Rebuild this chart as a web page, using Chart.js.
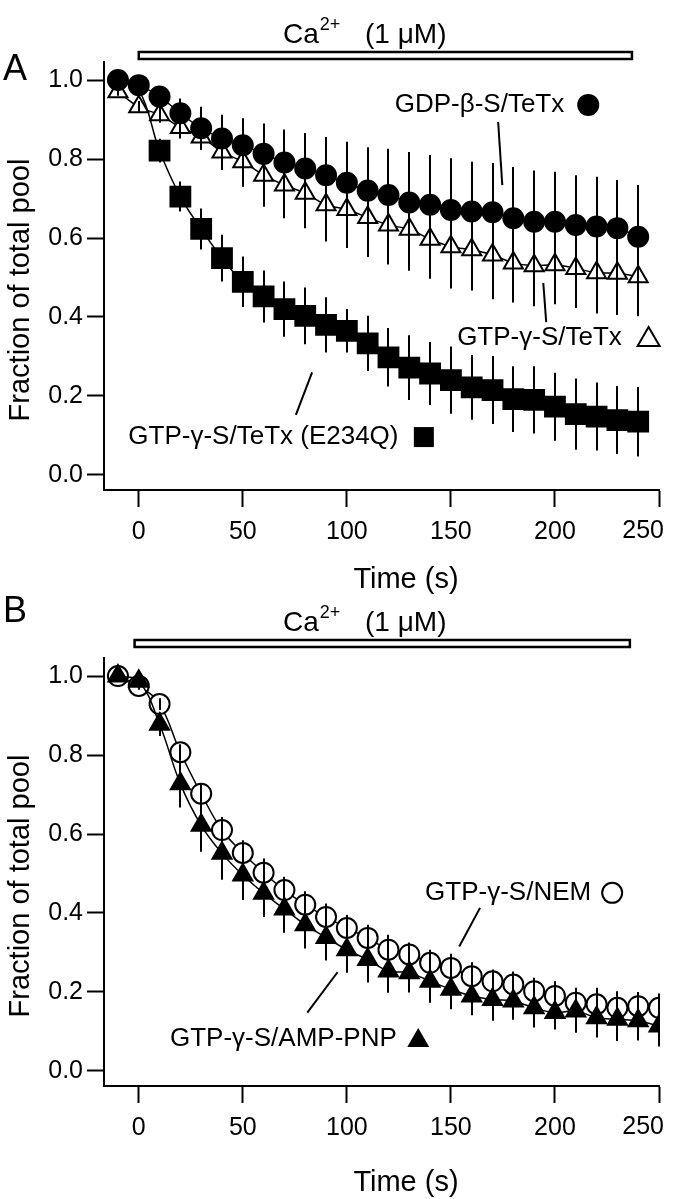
<!DOCTYPE html>
<html>
<head>
<meta charset="utf-8">
<title>Fraction of total pool vs time</title>
<script src="https://cdn.jsdelivr.net/npm/chart.js@4/dist/chart.umd.min.js"></script>
<style>
    html, body { margin: 0; padding: 0; background: #fff; }
    #page { position: relative; width: 676px; height: 1199px; overflow: hidden; }
    #chart-a { position: absolute; left: 0; top: 0; }
    #chart-b { position: absolute; left: 0; top: 596px; }
</style>
</head>
<body>
<div id="page">
    <canvas id="chart-a" width="676" height="598"></canvas>
    <canvas id="chart-b" width="676" height="603"></canvas>
</div>
<script>
(function () {
    "use strict";

    // ---- data ----
    var X_TICKS = [0, 50, 100, 150, 200, 250];
    var Y_TICKS = [0.0, 0.2, 0.4, 0.6, 0.8, 1.0];

    // panel A
    var TIME_A = [-10, 0, 10, 20, 30, 40, 50, 60, 70, 80, 90, 100, 110, 120,
        130, 140, 150, 160, 170, 180, 190, 200, 210, 220, 230, 240];
    var GDP_TETX = [1.0, 0.987, 0.958, 0.916, 0.878, 0.852, 0.835, 0.813, 0.791, 0.776, 0.759, 0.74, 0.72,
        0.709, 0.69, 0.684, 0.671, 0.667, 0.665, 0.65, 0.641, 0.641, 0.633, 0.629, 0.625, 0.603];
    var GDP_TETX_ERR = [0.01, 0.015, 0.02, 0.037, 0.054, 0.06, 0.068, 0.077, 0.084, 0.09, 0.097, 0.104, 0.11,
        0.117, 0.128, 0.126, 0.131, 0.126, 0.125, 0.13, 0.13, 0.127, 0.126, 0.126, 0.122, 0.131];
    var GTP_TETX = [0.97, 0.932, 0.912, 0.88, 0.856, 0.818, 0.793, 0.759, 0.734, 0.713, 0.684, 0.672, 0.652,
        0.633, 0.622, 0.597, 0.578, 0.57, 0.557, 0.537, 0.53, 0.532, 0.523, 0.512, 0.511, 0.502];
    var GTP_TETX_ERR = [0.01, 0.015, 0.02, 0.028, 0.033, 0.046, 0.063, 0.08, 0.084, 0.088, 0.093, 0.097, 0.1,
        0.1, 0.105, 0.1, 0.106, 0.103, 0.112, 0.1, 0.103, 0.1, 0.1, 0.103, 0.106, 0.1];
    var GTP_E234Q = [1.0, 0.975, 0.821, 0.705, 0.623, 0.549, 0.489, 0.452, 0.42, 0.403, 0.38, 0.365, 0.333,
        0.298, 0.272, 0.257, 0.24, 0.222, 0.215, 0.192, 0.19, 0.173, 0.154, 0.148, 0.139, 0.135];
    var GTP_E234Q_ERR = [0.01, 0.015, 0.03, 0.038, 0.052, 0.059, 0.064, 0.066, 0.07, 0.072, 0.07, 0.055, 0.07,
        0.074, 0.082, 0.08, 0.085, 0.082, 0.086, 0.083, 0.085, 0.086, 0.09, 0.086, 0.086, 0.088];

    // panel B
    var TIME_B = [-10, 0, 10, 20, 30, 40, 50, 60, 70, 80, 90, 100, 110, 120,
        130, 140, 150, 160, 170, 180, 190, 200, 210, 220, 230, 240, 250];
    var GTP_NEM = [1.0, 0.975, 0.929, 0.807, 0.702, 0.61, 0.552, 0.502, 0.458, 0.421, 0.39, 0.362, 0.337,
        0.307, 0.295, 0.274, 0.261, 0.24, 0.227, 0.219, 0.202, 0.19, 0.173, 0.169, 0.16, 0.164, 0.16];
    var GTP_NEM_ERR = [0.005, 0.01, 0.015, 0.02, 0.025, 0.033, 0.032, 0.036, 0.034, 0.034, 0.034, 0.033, 0.033,
        0.038, 0.03, 0.033, 0.036, 0.035, 0.03, 0.033, 0.034, 0.037, 0.038, 0.042, 0.042, 0.036, 0.036];
    var GTP_AMPPNP = [1.0, 0.987, 0.878, 0.727, 0.622, 0.551, 0.496, 0.45, 0.41, 0.37, 0.338, 0.307, 0.282,
        0.253, 0.249, 0.227, 0.207, 0.19, 0.181, 0.177, 0.16, 0.148, 0.152, 0.135, 0.131, 0.127, 0.114];
    var GTP_AMPPNP_ERR = [0.005, 0.01, 0.03, 0.06, 0.067, 0.067, 0.063, 0.06, 0.06, 0.06, 0.058, 0.058, 0.058,
        0.055, 0.05, 0.054, 0.051, 0.049, 0.054, 0.047, 0.05, 0.043, 0.055, 0.05, 0.055, 0.05, 0.052];

    var FONT = "'Liberation Sans', Arial, Helvetica, sans-serif";
    var INK = "#000";
    var LAST_X_TICK = X_TICKS[X_TICKS.length - 1];

    function series(times, values, errors, style) {
        var ds = {
            data: times.map(function (t, i) { return { x: t, y: values[i] }; }),
            errors: errors,
            borderColor: INK,
            borderWidth: 1.5,
            tension: 0.4,
            fill: false,
            pointBorderColor: INK,
            pointBorderWidth: 2,
            pointHoverRadius: 0,
        };
        Object.keys(style).forEach(function (k) { ds[k] = style[k]; });
        return ds;
    }

    // vertical error bars, drawn over the markers
    var errorBars = {
        id: "errorBars",
        afterDatasetsDraw: function (chart) {
            var ctx = chart.ctx;
            var xs = chart.scales.x;
            var ys = chart.scales.y;
            ctx.save();
            ctx.strokeStyle = INK;
            ctx.lineWidth = 2;
            chart.data.datasets.forEach(function (ds) {
                if (!ds.errors) {
                    return;
                }
                ds.data.forEach(function (p, i) {
                    var e = ds.errors[i];
                    var px = Math.round(xs.getPixelForValue(p.x));
                    ctx.beginPath();
                    ctx.moveTo(px, ys.getPixelForValue(p.y - e));
                    ctx.lineTo(px, ys.getPixelForValue(p.y + e));
                    ctx.stroke();
                });
            });
            ctx.restore();
        },
    };

    function glyph(ctx, kind, x, y) {
        ctx.save();
        ctx.lineWidth = 2;
        ctx.strokeStyle = INK;
        ctx.fillStyle = INK;
        ctx.beginPath();
        if (kind === "dot" || kind === "ring") {
            ctx.arc(x, y, kind === "dot" ? 11 : 10, 0, Math.PI * 2);
        } else if (kind === "square") {
            ctx.rect(x - 10, y - 10, 20, 20);
        } else {
            ctx.moveTo(x, y - 11);
            ctx.lineTo(x + 11, y + 8);
            ctx.lineTo(x - 11, y + 8);
            ctx.closePath();
        }
        if (kind === "ring" || kind === "openTri") {
            ctx.stroke();
        } else {
            ctx.fill();
        }
        ctx.restore();
    }

    // panel letter, calcium bar, axis titles and the series labels
    function notesPlugin(panel) {
        return {
            id: "notes",
            afterDraw: function (chart) {
                var ctx = chart.ctx;
                var xs = chart.scales.x;
                var ys = chart.scales.y;
                var area = chart.chartArea;
                ctx.save();
                ctx.fillStyle = INK;
                ctx.strokeStyle = INK;

                ctx.font = "36px " + FONT;
                ctx.textAlign = "left";
                ctx.textBaseline = "alphabetic";
                ctx.fillText(panel.letter, 3, panel.letterY);

                // Ca2+ application bar
                var bx0 = xs.getPixelForValue(panel.caStart);
                var bx1 = xs.getPixelForValue(panel.caEnd);
                ctx.lineWidth = 2.5;
                ctx.strokeRect(bx0, panel.barY, bx1 - bx0, 7);
                ctx.font = "28px " + FONT;
                ctx.fillText("Ca", 283, panel.barY - 9);
                var caW = ctx.measureText("Ca").width;
                ctx.font = "18px " + FONT;
                ctx.fillText("2+", 283 + caW + 1, panel.barY - 22);
                ctx.font = "28px " + FONT;
                ctx.fillText("(1 \u03bcM)", 365, panel.barY - 9);

                // last x tick label sits pulled in from the edge, as in the figure
                ctx.font = "25px " + FONT;
                ctx.textAlign = "right";
                ctx.textBaseline = "top";
                ctx.fillText(String(LAST_X_TICK), xs.getPixelForValue(LAST_X_TICK) + 5, area.bottom + 29);

                // axis titles
                ctx.font = "29px " + FONT;
                ctx.textAlign = "center";
                ctx.textBaseline = "alphabetic";
                ctx.fillText("Time (s)", 406, panel.timeY);
                ctx.save();
                ctx.translate(29, (area.top + area.bottom) / 2 + 14);
                ctx.rotate(-Math.PI / 2);
                ctx.fillText("Fraction of total pool", 0, 0);
                ctx.restore();

                // series labels with leader lines
                ctx.font = "26px " + FONT;
                ctx.textAlign = "left";
                ctx.textBaseline = "middle";
                ctx.lineWidth = 2;
                panel.labels.forEach(function (lab) {
                    var ty = ys.getPixelForValue(lab.y);
                    ctx.fillText(lab.text, xs.getPixelForValue(lab.x), ty);
                    glyph(ctx, lab.glyph, xs.getPixelForValue(lab.gx), ty);
                    ctx.beginPath();
                    ctx.moveTo(xs.getPixelForValue(lab.line[0]), ys.getPixelForValue(lab.line[1]));
                    ctx.lineTo(xs.getPixelForValue(lab.line[2]), ys.getPixelForValue(lab.line[3]));
                    ctx.stroke();
                });
                ctx.restore();
            },
        };
    }

    function initPanel(canvasId, datasets, panel) {
        var canvas = document.getElementById(canvasId);
        if (!canvas || typeof Chart === "undefined") {
            return;
        }
        var axisHeight = canvas.height - 490;
        new Chart(canvas, {
            type: "line",
            data: { datasets: datasets },
            options: {
                responsive: false,
                animation: false,
                events: [],
                layout: { padding: { top: 62, right: 17, left: 0, bottom: 0 } },
                plugins: {
                    legend: { display: false },
                    tooltip: { enabled: false },
                },
                scales: {
                    x: {
                        type: "linear",
                        min: -16.7,
                        max: 250,
                        afterBuildTicks: function (s) {
                            s.ticks = X_TICKS.map(function (v) { return { value: v }; });
                        },
                        afterFit: function (s) {
                            s.height = axisHeight;
                            s.paddingLeft = 0;
                            s.paddingRight = 0;
                        },
                        border: { display: true, color: INK, width: 2 },
                        grid: {
                            drawOnChartArea: false,
                            drawTicks: true,
                            tickLength: 17,
                            tickWidth: 2,
                            tickColor: INK,
                            color: INK,
                        },
                        ticks: {
                            color: INK,
                            padding: 10,
                            maxRotation: 0,
                            font: { family: FONT, size: 25 },
                            callback: function (v) { return v === LAST_X_TICK ? "" : String(v); },
                        },
                    },
                    y: {
                        type: "linear",
                        min: -0.038,
                        max: 1.0456,
                        afterBuildTicks: function (s) {
                            s.ticks = Y_TICKS.map(function (v) { return { value: v }; });
                        },
                        afterFit: function (s) {
                            s.width = 104;
                            s.paddingTop = 0;
                            s.paddingBottom = 0;
                        },
                        border: { display: true, color: INK, width: 2 },
                        grid: {
                            drawOnChartArea: false,
                            drawTicks: true,
                            tickLength: 17,
                            tickWidth: 2,
                            tickColor: INK,
                            color: INK,
                        },
                        ticks: {
                            color: INK,
                            padding: 4,
                            font: { family: FONT, size: 25 },
                            callback: function (v) { return v.toFixed(1); },
                        },
                    },
                },
            },
            plugins: [errorBars, notesPlugin(panel)],
        });
    }

    function initFigure() {
        initPanel("chart-a", [
            series(TIME_A, GDP_TETX, GDP_TETX_ERR, {
                pointStyle: "circle", pointRadius: 10, pointBackgroundColor: INK,
            }),
            series(TIME_A, GTP_TETX, GTP_TETX_ERR, {
                pointStyle: "triangle", pointRadius: 11, pointBackgroundColor: "#fff",
            }),
            series(TIME_A, GTP_E234Q, GTP_E234Q_ERR, {
                pointStyle: "rect",
                // the first squares are hidden under the circles in the figure
                pointRadius: function (c) { return c.parsed && c.parsed.x <= 0 ? 0 : 14; },
                pointBackgroundColor: INK,
            }),
        ], {
            letter: "A",
            letterY: 80,
            barY: 52,
            caStart: 0,
            caEnd: 237,
            timeY: 588,
            labels: [
                { text: "GDP-\u03b2-S/TeTx", x: 123, y: 0.937, glyph: "dot", gx: 216, line: [172.7, 0.894, 174.7, 0.734] },
                { text: "GTP-\u03b3-S/TeTx", x: 153, y: 0.347, glyph: "openTri", gx: 245, line: [194.4, 0.486, 195.8, 0.387] },
                { text: "GTP-\u03b3-S/TeTx (E234Q)", x: -5, y: 0.096, glyph: "square", gx: 137, line: [83.3, 0.26, 75.5, 0.152] },
            ],
        });

        initPanel("chart-b", [
            series(TIME_B, GTP_AMPPNP, GTP_AMPPNP_ERR, {
                pointStyle: "triangle", pointRadius: 11, pointBackgroundColor: INK,
            }),
            series(TIME_B, GTP_NEM, GTP_NEM_ERR, {
                pointStyle: "circle", pointRadius: 10, pointBackgroundColor: "#fff",
            }),
        ], {
            letter: "B",
            letterY: 26,
            barY: 44,
            caStart: -2,
            caEnd: 236,
            timeY: 595,
            labels: [
                { text: "GTP-\u03b3-S/NEM", x: 137.6, y: 0.451, glyph: "ring", gx: 227.5, line: [164, 0.413, 154, 0.315] },
                { text: "GTP-\u03b3-S/AMP-PNP", x: 15, y: 0.081, glyph: "fillTri", gx: 134.3, line: [95.5, 0.25, 81, 0.148] },
            ],
        });
    }

    if (document.readyState === "loading") {
        document.addEventListener("DOMContentLoaded", initFigure);
    } else {
        initFigure();
    }
})();
</script>
</body>
</html>
